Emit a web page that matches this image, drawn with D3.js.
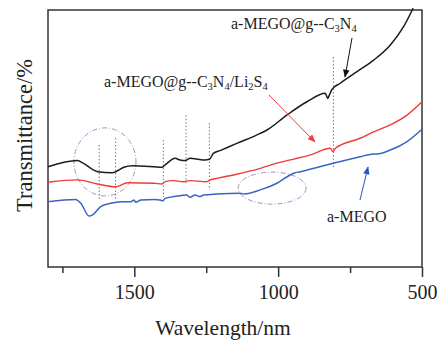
<!DOCTYPE html>
<html>
<head>
<meta charset="utf-8">
<script src="https://cdn.jsdelivr.net/npm/d3@7"></script>
<style>
  body { margin: 0; background: #fff; }
  text { font-family: "Liberation Serif", "DejaVu Serif", serif; fill: #222; }
</style>
</head>
<body>
<div id="chart"></div>
<script>
// data (wavelength in nm, transmittance in arbitrary units)
var blackW = [1800, 1698, 1681, 1628, 1576, 1564, 1536, 1507, 1431, 1404, 1393, 1358, 1341, 1323, 1306, 1283, 1254, 1239, 1225, 1202, 1144, 1062, 1039, 970, 900, 836, 828, 822, 813, 784, 726, 668, 610, 564, 531];
var blackV = [39.0, 41.4, 40.6, 37.1, 36.7, 37.1, 38.8, 39.4, 39.0, 38.8, 39.7, 42.3, 41.6, 41.4, 42.3, 42.0, 41.6, 41.9, 44.2, 45.3, 48.1, 52.0, 53.3, 59.1, 64.3, 67.6, 65.6, 66.9, 69.1, 71.5, 76.0, 80.5, 86.4, 93.5, 100.7];

var redW = [1800, 1698, 1628, 1564, 1524, 1431, 1404, 1393, 1364, 1329, 1306, 1248, 1236, 1213, 1144, 1062, 1004, 888, 819, 810, 801, 715, 668, 610, 552, 500];
var redV = [33.0, 33.9, 32.3, 31.2, 32.8, 32.6, 32.3, 33.2, 33.6, 33.2, 33.6, 33.2, 33.9, 34.5, 36.1, 38.4, 40.4, 43.6, 46.2, 44.9, 46.2, 50.1, 52.6, 55.3, 59.1, 64.3];

var blueW = [1800, 1704, 1686, 1657, 1646, 1617, 1582, 1547, 1512, 1501, 1495, 1477, 1431, 1410, 1401, 1393, 1352, 1318, 1306, 1289, 1271, 1260, 1213, 1132, 1118, 1062, 1004, 946, 923, 808, 715, 668, 656, 610, 552, 500];
var blueV = [25.4, 26.3, 24.8, 19.8, 20.2, 23.5, 24.8, 25.4, 25.4, 26.1, 25.2, 26.1, 26.3, 26.1, 25.7, 26.7, 27.6, 28.0, 27.1, 28.0, 27.4, 28.0, 28.4, 28.7, 28.4, 30.0, 32.6, 36.5, 37.1, 40.4, 42.9, 44.0, 44.0, 45.5, 48.8, 53.6];

// dotted marker lines at the absorption features
var peakW = [1622, 1565, 1399, 1320, 1239, 808];
var peakTop = [47.5, 50.2, 49.4, 59.1, 56.0, 81.7];
var peakBottom = [26.1, 26.1, 27.2, 31.9, 30.0, 38.5];

var majorTicks = [1500, 1000, 500];
var minorTicks = [1750, 1250, 750];

var svgWidth = 441;
var svgHeight = 342;

var margin = { top: 10, right: 19, bottom: 75, left: 48 };
var width = svgWidth - margin.left - margin.right;
var height = svgHeight - margin.top - margin.bottom;

var svg = d3.select("#chart")
  .append("svg")
  .attr("width", svgWidth)
  .attr("height", svgHeight);

var chartGroup = svg.append("g")
  .attr("transform", `translate(${margin.left}, ${margin.top})`);

var xScale = d3.scaleLinear().domain([1800, 500]).range([0, width]);
var yScale = d3.scaleLinear().domain([0, 100]).range([height, 0]);

// frame
chartGroup.append("rect")
  .attr("width", width)
  .attr("height", height)
  .attr("fill", "none")
  .attr("stroke", "#333")
  .attr("stroke-width", 1.5);

// axes
var majorAxis = d3.axisBottom(xScale).tickValues(majorTicks).tickSize(10).tickPadding(8).tickFormat(d3.format("d"));
var minorAxis = d3.axisBottom(xScale).tickValues(minorTicks).tickSize(6).tickFormat("");

var gMajor = chartGroup.append("g")
  .attr("transform", `translate(0, ${height})`)
  .call(majorAxis);
gMajor.select(".domain").remove();
gMajor.selectAll("line").attr("stroke", "#333").attr("stroke-width", 1.5);
gMajor.selectAll("text")
  .style("font-family", "Liberation Serif")
  .style("font-size", "20px")
  .attr("fill", "#222");

var gMinor = chartGroup.append("g")
  .attr("transform", `translate(0, ${height})`)
  .call(minorAxis);
gMinor.select(".domain").remove();
gMinor.selectAll("line").attr("stroke", "#333").attr("stroke-width", 1.5);

// axis labels
chartGroup.append("text")
  .attr("x", width / 2 - 12)
  .attr("y", height + 68)
  .attr("text-anchor", "middle")
  .style("font-size", "21.5px")
  .text("Wavelength/nm");

chartGroup.append("text")
  .attr("transform", "rotate(-90)")
  .attr("x", -(height / 2) + 3)
  .attr("y", -16)
  .attr("text-anchor", "middle")
  .style("font-size", "22.5px")
  .text("Transmittance/%");

// dotted marker lines
chartGroup.append("g")
  .selectAll("line")
  .data(peakW)
  .enter()
  .append("line")
  .attr("x1", d => xScale(d))
  .attr("x2", d => xScale(d))
  .attr("y1", (d, i) => yScale(peakTop[i]))
  .attr("y2", (d, i) => yScale(peakBottom[i]))
  .attr("stroke", "#777")
  .attr("stroke-width", 1)
  .attr("stroke-dasharray", "1.5,2");

// dash-dot ellipses
function ellipse(w, v, rx, ry) {
  chartGroup.append("ellipse")
    .attr("cx", xScale(w))
    .attr("cy", yScale(v))
    .attr("rx", rx)
    .attr("ry", ry)
    .attr("fill", "none")
    .attr("stroke", "#b08ac4")
    .attr("stroke-width", 1)
    .attr("stroke-dasharray", "5,2,1,2");
}
ellipse(1602, 40.9, 31, 34);
ellipse(1021, 30.7, 34, 16);

// spectra
var line = d3.line()
  .x(d => xScale(d[0]))
  .y(d => yScale(d[1]))
  .curve(d3.curveMonotoneX);

function drawSeries(ws, vs, color, sw) {
  chartGroup.append("path")
    .datum(d3.zip(ws, vs))
    .attr("d", line)
    .attr("fill", "none")
    .attr("stroke", color)
    .attr("stroke-width", sw)
    .attr("stroke-linejoin", "round");
}
drawSeries(blueW, blueV, "#3a63c2", 1.5);
drawSeries(redW, redV, "#f23a3a", 1.4);
drawSeries(blackW, blackV, "#1c1c1c", 1.5);

// arrows
var defs = svg.append("defs");
function marker(id, color) {
  defs.append("marker")
    .attr("id", id)
    .attr("viewBox", "0 0 10 10")
    .attr("refX", 9)
    .attr("refY", 5)
    .attr("markerUnits", "userSpaceOnUse")
    .attr("markerWidth", 10)
    .attr("markerHeight", 8)
    .attr("orient", "auto")
    .append("path")
    .attr("d", "M0,1 L10,5 L0,9 Z")
    .attr("fill", color);
}
marker("headBlack", "#111");
marker("headRed", "#f23a3a");
marker("headBlue", "#2a56c0");

function arrow(x1, y1, x2, y2, color, id) {
  svg.append("line")
    .attr("x1", x1).attr("y1", y1)
    .attr("x2", x2).attr("y2", y2)
    .attr("stroke", color)
    .attr("stroke-width", 1)
    .attr("marker-end", `url(#${id})`);
}
arrow(352, 38, 345, 77, "#111", "headBlack");
arrow(269, 95, 315, 142, "#f23a3a", "headRed");
arrow(360, 200, 368, 167, "#2a56c0", "headBlue");

// series labels with subscripts
function label(x, y, parts) {
  var t = svg.append("text")
    .attr("x", x)
    .attr("y", y)
    .style("font-size", "16px");
  var shifted = false;
  parts.forEach(function(p) {
    var s = t.append("tspan").text(p[0]);
    if (p[1]) {
      s.attr("font-size", "10.5px").attr("dy", 3);
      shifted = true;
    } else if (shifted) {
      s.attr("dy", -3);
      shifted = false;
    }
  });
}
label(231, 29, [["a-MEGO@g--C"], ["3", true], ["N"], ["4", true]]);
label(104, 87, [["a-MEGO@g--C"], ["3", true], ["N"], ["4", true], ["/Li"], ["2", true], ["S"], ["4", true]]);
label(327, 222, [["a-MEGO"]]);
</script>
</body>
</html>
